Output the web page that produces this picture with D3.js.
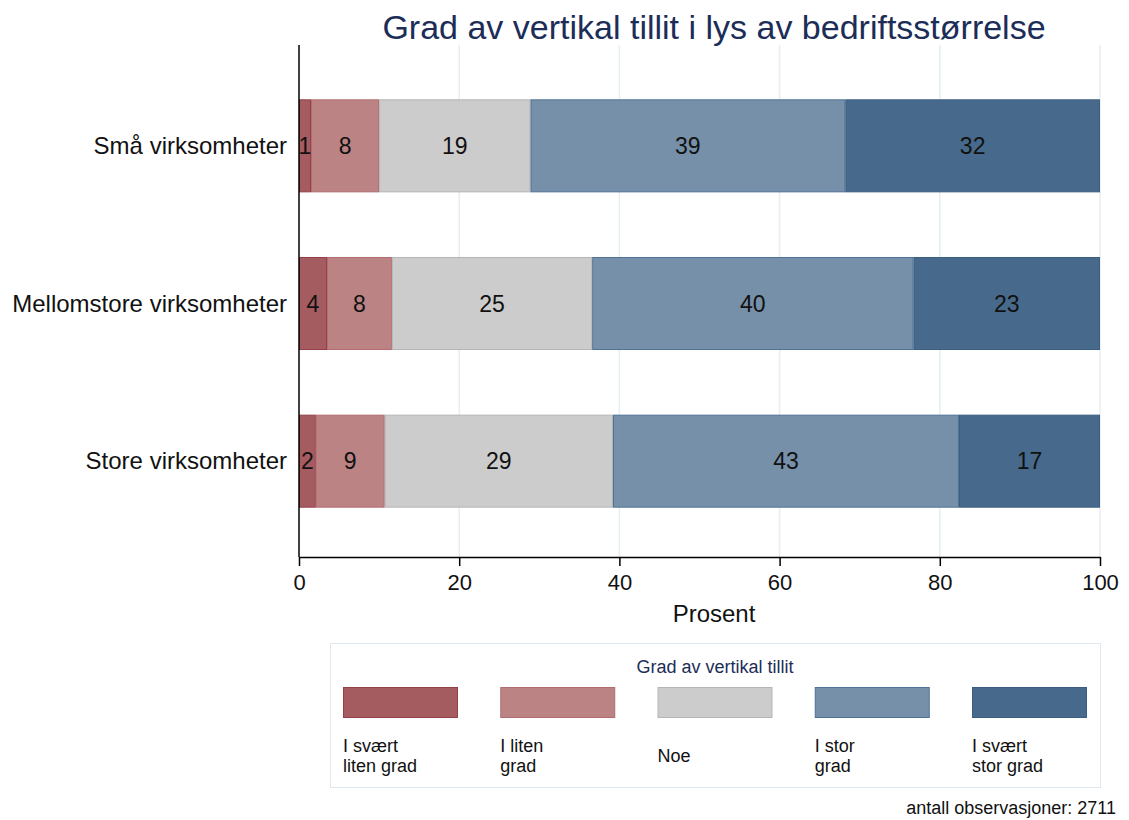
<!DOCTYPE html>
<html>
<head>
<meta charset="utf-8">
<script src="https://cdn.jsdelivr.net/npm/d3@7"></script>
<style>
  body { margin: 0; background: #fff; }
  text { font-family: "Liberation Sans", Arial, sans-serif; }
</style>
</head>
<body>
<div id="chart"></div>
<script>
// data (percent per size group)
const categories = ["Små virksomheter", "Mellomstore virksomheter", "Store virksomheter"];
const series = ["I svært liten grad", "I liten grad", "Noe", "I stor grad", "I svært stor grad"];
const legendLines = [["I svært", "liten grad"], ["I liten", "grad"], ["Noe"], ["I stor", "grad"], ["I svært", "stor grad"]];
const svaertLiten = [1.5, 3.5, 2.1];
const liten = [8.5, 8.1, 8.6];
const noe = [18.9, 25.0, 28.5];
const stor = [39.3, 40.1, 43.2];
const svaertStor = [31.8, 23.3, 17.6];
// printed labels as shown in the bars
const printed = [
  [1, 8, 19, 39, 32],
  [4, 8, 25, 40, 23],
  [2, 9, 29, 43, 17]
];
const xTicks = [0, 20, 40, 60, 80, 100];

const fills = ["#a45c60", "#bc8385", "#cccccc", "#7690aa", "#476a8c"];
const strokes = ["#953f47", "#b26c70", "#b5b5b5", "#4f7396", "#3b5d80"];

const W = 1129, H = 820;
const svg = d3.select("#chart").append("svg")
    .attr("width", W)
    .attr("height", H);

const x = d3.scaleLinear().domain([0, 100]).range([299, 1100]);
const y = d3.scaleBand()
    .domain(categories)
    .range([67, 540])
    .paddingInner(0.41)
    .paddingOuter(0.205);

const plotTop = 45, plotBottom = 557;

// title
svg.append("text")
    .attr("x", 714).attr("y", 39)
    .attr("text-anchor", "middle")
    .attr("font-size", 34)
    .attr("fill", "#1c2d57")
    .text("Grad av vertikal tillit i lys av bedriftsstørrelse");

// gridlines
svg.append("g")
    .selectAll("line")
    .data(xTicks.slice(1))
    .enter()
    .append("line")
    .attr("x1", d => x(d)).attr("x2", d => x(d))
    .attr("y1", plotTop).attr("y2", plotBottom)
    .attr("stroke", "#e6eef2")
    .attr("stroke-width", 1.5);

// stack the rows
const rows = categories.map((c, i) => ({
    cat: c,
    vals: [svaertLiten[i], liten[i], noe[i], stor[i], svaertStor[i]]
}));
const stacked = d3.stack()
    .keys(d3.range(series.length))
    .value((d, k) => d.vals[k])(rows);

const layer = svg.append("g")
    .selectAll("g")
    .data(stacked)
    .enter()
    .append("g")
    .attr("fill", d => fills[d.key])
    .attr("stroke", d => strokes[d.key]);

layer.selectAll("rect")
    .data(d => d)
    .enter()
    .append("rect")
    .attr("x", d => x(d[0]) + 0.5)
    .attr("y", d => y(d.data.cat) + 0.5)
    .attr("width", d => x(d[1]) - x(d[0]) - 1)
    .attr("height", y.bandwidth() - 1)
    .attr("stroke-width", 1);

// segment labels
stacked.forEach(s => {
    svg.append("g")
        .selectAll("text")
        .data(s)
        .enter()
        .append("text")
        .attr("x", d => x((d[0] + d[1]) / 2))
        .attr("y", d => y(d.data.cat) + y.bandwidth() / 2 + 8)
        .attr("text-anchor", "middle")
        .attr("font-size", 23)
        .attr("fill", "#111")
        .text((d, i) => printed[i][s.key]);
});

// x axis
const xAxis = svg.append("g")
    .attr("transform", "translate(0," + plotBottom + ")")
    .call(d3.axisBottom(x).tickValues(xTicks).tickSize(9).tickPadding(8).tickSizeOuter(0));
xAxis.select(".domain").attr("stroke", "#000").attr("stroke-width", 1.5);
xAxis.selectAll(".tick line").attr("stroke", "#000").attr("stroke-width", 1.5);
xAxis.selectAll("text")
    .attr("font-size", 22)
    .attr("font-family", "'Liberation Sans', Arial, sans-serif")
    .attr("fill", "#111");

svg.append("text")
    .attr("x", 714).attr("y", 622)
    .attr("text-anchor", "middle")
    .attr("font-size", 24)
    .attr("fill", "#111")
    .text("Prosent");

// y axis
svg.append("line")
    .attr("x1", 299).attr("x2", 299)
    .attr("y1", plotTop).attr("y2", plotBottom)
    .attr("stroke", "#000")
    .attr("stroke-width", 1.5);

svg.append("g")
    .selectAll("text")
    .data(categories)
    .enter()
    .append("text")
    .attr("x", 287)
    .attr("y", d => y(d) + y.bandwidth() / 2 + 8)
    .attr("text-anchor", "end")
    .attr("font-size", 24)
    .attr("fill", "#111")
    .text(d => d);

// legend
const legend = svg.append("g");
legend.append("rect")
    .attr("x", 330.5).attr("y", 643.5)
    .attr("width", 770).attr("height", 144)
    .attr("fill", "#fff")
    .attr("stroke", "#dfe8ee");
legend.append("text")
    .attr("x", 715).attr("y", 673)
    .attr("text-anchor", "middle")
    .attr("font-size", 18)
    .attr("fill", "#1c2d57")
    .text("Grad av vertikal tillit");

const lx = d3.scalePoint().domain(d3.range(series.length)).range([343, 972]);

const item = legend.selectAll(".item")
    .data(series)
    .enter()
    .append("g")
    .attr("transform", (d, i) => "translate(" + lx(i) + ",0)");

item.append("rect")
    .attr("x", 0.5).attr("y", 687.5)
    .attr("width", 114).attr("height", 30)
    .attr("fill", (d, i) => fills[i])
    .attr("stroke", (d, i) => strokes[i])
    .attr("stroke-width", 1);

item.each(function (d, i) {
    const lines = legendLines[i];
    const t = d3.select(this).append("text")
        .attr("font-size", 18)
        .attr("fill", "#111");
    const y0 = lines.length === 1 ? 762 : 752;
    lines.forEach((ln, j) => {
        t.append("tspan").attr("x", 0).attr("y", y0 + j * 20).text(ln);
    });
});

// footnote
svg.append("text")
    .attr("x", 1116).attr("y", 814)
    .attr("text-anchor", "end")
    .attr("font-size", 18)
    .attr("fill", "#111")
    .text("antall observasjoner: 2711");
</script>
</body>
</html>
